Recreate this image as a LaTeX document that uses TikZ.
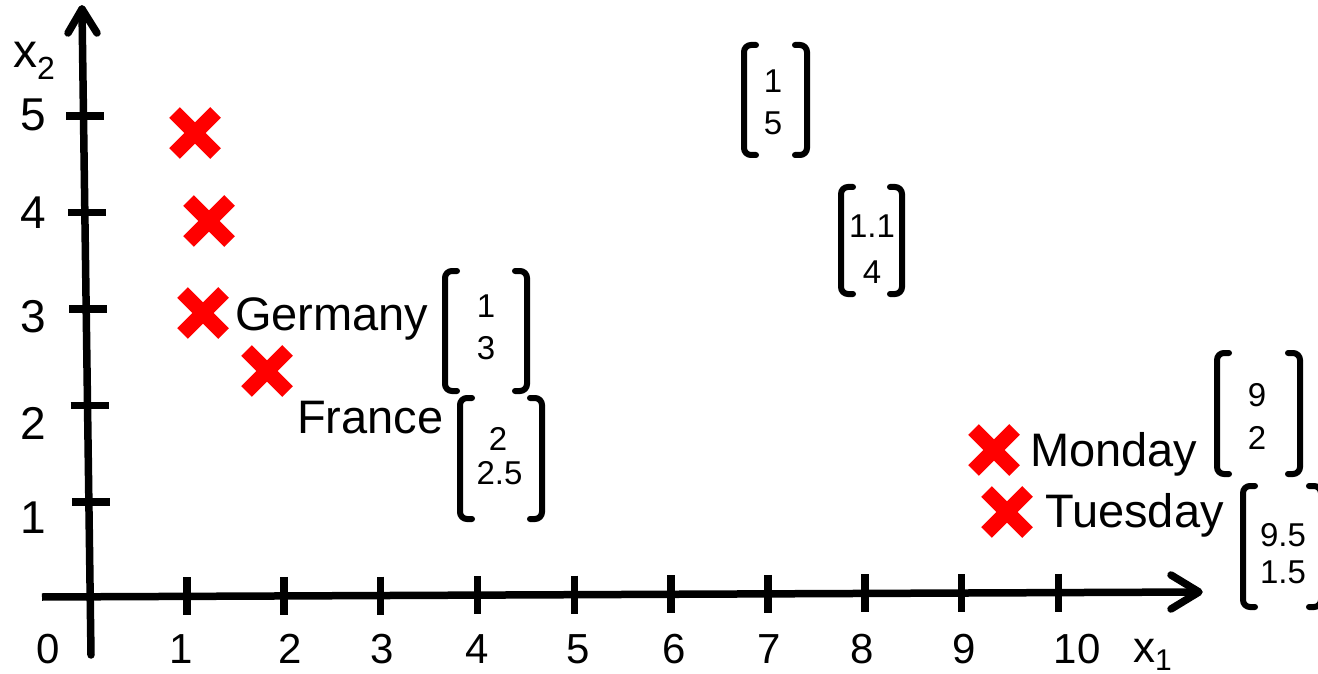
\documentclass[tikz,border=0pt]{standalone}
\usepackage{fontspec}
\setmainfont{Liberation Sans}
\usetikzlibrary{shapes.misc}
\newcommand\fsz[1]{\fontsize{#1}{#1}\selectfont}
\newcommand\vecbrackets[1]{%
  \draw[brk] ([xshift=12pt]#1.north west) -- (#1.north west) -- (#1.south west) -- ([xshift=12pt]#1.south west);
  \draw[brk] ([xshift=-12pt]#1.north east) -- (#1.north east) -- (#1.south east) -- ([xshift=-12pt]#1.south east);}
\begin{document}
\begin{tikzpicture}[x=1pt,y=-1pt,
  axisline/.style={line width=7.5pt, line cap=round, line join=round},
  tickline/.style={line width=7.5pt},
  brk/.style={line width=6pt, rounded corners=7pt, line cap=round},
  redcross/.style={cross out, draw=red, line width=15pt, minimum size=41pt, inner sep=0pt, outer sep=0pt},
  vecbox/.style={inner sep=0pt, outer sep=0pt},
  ylbl/.style={inner sep=0pt, font=\fsz{46}},
  xlbl/.style={inner sep=0pt, anchor=base, font=\fsz{42}},
  word/.style={inner sep=0pt, anchor=base west, font=\fsz{47}},
  entry/.style={inner sep=0pt, font=\fsz{33}}
]
\useasboundingbox (0,0) rectangle (1318,674);
\clip (0,0) rectangle (1318,674);

% axes
\coordinate (ybot) at (91,655);
\coordinate (ytip) at (82,9);
\coordinate (yb1) at (68,33);
\coordinate (yb2) at (97,33);
\coordinate (xl) at (42,597);
\coordinate (xtip) at (1199,592);
\coordinate (xb1) at (1171,575);
\coordinate (xb2) at (1171,609);
\draw[axisline] (ybot) -- (ytip);
\draw[axisline] (yb1) -- (ytip) -- (yb2);
\draw[axisline, line cap=butt] (xl) -- (xtip);
\draw[axisline] (xb1) -- (xtip) -- (xb2);

% ticks on x axis
\foreach \k in {1,...,10}{
  \pgfmathsetmacro{\tx}{90.2+96.83*\k}
  \pgfmathsetmacro{\ty}{597-(\tx-42)*5/1157}
  \draw[tickline] (\tx,\ty-19) -- (\tx,\ty+19);
}
% ticks on y axis
\foreach \k in {1,...,5}{
  \pgfmathsetmacro{\ty}{598.5-96.5*\k}
  \pgfmathsetmacro{\tx}{83+(\ty-9)*9/646}
  \draw[tickline] (\tx-18,\ty) -- (\tx+20,\ty);
}

% y labels
\node[ylbl] (y5) at (33,115) {5};
\node[ylbl] (y4) at (33,213) {4};
\node[ylbl] (y3) at (33,317) {3};
\node[ylbl] (y2) at (33,423) {2};
\node[ylbl] (y1) at (33,518) {1};
\node[inner sep=0pt, anchor=base west, font=\fsz{48}] (x2) at (13,68) {x\raisebox{-12pt}{\fsz{32}2}};

% x labels
\node[xlbl] (l0) at (48,663) {0};
\node[xlbl] (l1) at (181,663) {1};
\node[xlbl] (l2) at (290,663) {2};
\node[xlbl] (l3) at (382,663) {3};
\node[xlbl] (l4) at (477,663) {4};
\node[xlbl] (l5) at (578,663) {5};
\node[xlbl] (l6) at (674,663) {6};
\node[xlbl] (l7) at (769,663) {7};
\node[xlbl] (l8) at (862,663) {8};
\node[xlbl] (l9) at (964,663) {9};
\node[xlbl] (l10) at (1077,663) {10};
\node[inner sep=0pt, anchor=base west, font=\fsz{44}] (x1) at (1133,662) {x\raisebox{-8pt}{\fsz{30}1}};

% data points
\node[redcross] (p1) at (195,133) {};
\node[redcross] (p2) at (209,221) {};
\node[redcross] (pG) at (203,313) {};
\node[redcross] (pF) at (267,371) {};
\node[redcross] (pM) at (994,450) {};
\node[redcross] (pT) at (1007,512) {};

% words
\node[word] (tG) at (235,330) {Germany};
\node[word] (tF) at (297,433) {France};
\node[word] (tM) at (1030,466) {Monday};
\node[word] (tT) at (1045,527) {Tuesday};

% vectors
\node[vecbox, minimum width=82pt, minimum height=120pt] (vG) at (486,331) {};
\vecbrackets{vG}
\node[entry] (vG1) at (486,306) {1};
\node[entry] (vG2) at (486,348.5) {3};

\node[vecbox, minimum width=82pt, minimum height=121pt] (vF) at (501,458.5) {};
\vecbrackets{vF}
\node[entry] (vF1) at (498,438.5) {2};
\node[entry] (vF2) at (499.5,473.5) {2.5};

\node[vecbox, minimum width=63pt, minimum height=110pt] (vA) at (775.5,100) {};
\vecbrackets{vA}
\node[entry] (vA1) at (773,81.5) {1};
\node[entry] (vA2) at (773,123.5) {5};

\node[vecbox, minimum width=61pt, minimum height=107pt] (vB) at (871.5,240.5) {};
\vecbrackets{vB}
\node[entry] (vB1) at (872,226) {1.1};
\node[entry] (vB2) at (872,272) {4};

\node[vecbox, minimum width=83pt, minimum height=121pt] (vM) at (1258.5,413.5) {};
\vecbrackets{vM}
\node[entry] (vM1) at (1257,395) {9};
\node[entry] (vM2) at (1257,438) {2};

\node[vecbox, minimum width=78pt, minimum height=121pt] (vT) at (1282,546.5) {};
\vecbrackets{vT}
\node[entry] (vT1) at (1283,535) {9.5};
\node[entry] (vT2) at (1283,572) {1.5};
\end{tikzpicture}
\end{document}
